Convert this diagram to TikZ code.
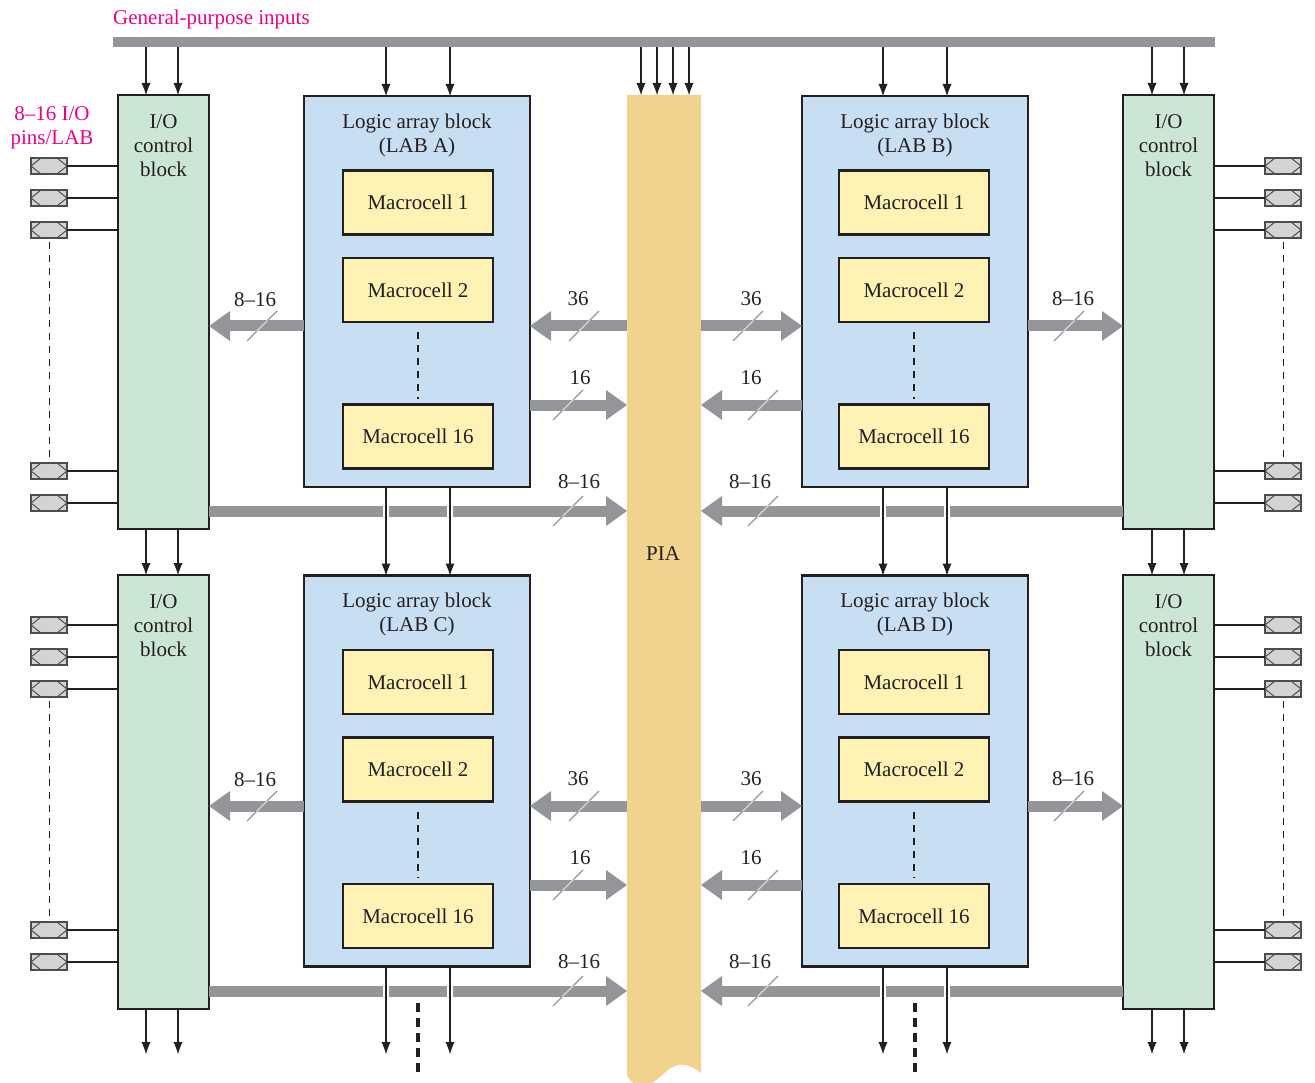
\documentclass[tikz,border=0pt]{standalone}
\usepackage{fontspec}
\setmainfont{Liberation Serif}
\usetikzlibrary{arrows.meta,calc}
\definecolor{iogreen}{HTML}{CCE6D6}
\definecolor{labblue}{HTML}{C8DFF3}
\definecolor{mcyellow}{HTML}{FEF2B4}
\definecolor{piaorange}{HTML}{F2D38E}
\definecolor{busgray}{HTML}{939598}
\definecolor{pingray}{HTML}{D1D3D4}
\definecolor{pinedge}{HTML}{4D4D4F}
\definecolor{ink}{HTML}{231F20}
\definecolor{hotpink}{HTML}{EC008C}
\definecolor{slashlight}{HTML}{D6D7D8}
\newcommand\busslash[1]{%
  \draw[busgray, line width=1.2pt] ($(#1)+(-15,15)$) -- ($(#1)+(15,-15)$);
  \draw[slashlight, line width=1.2pt] ($(#1)+(-5.5,5.5)$) -- ($(#1)+(5.5,-5.5)$);}
\begin{document}
\begin{tikzpicture}[x=1pt,y=-1pt,
  txt/.style={font=\fontsize{21}{24}\selectfont, text=ink, inner sep=0pt, align=center},
  pinktxt/.style={font=\fontsize{21}{24}\selectfont, text=hotpink, inner sep=0pt, align=center},
  box/.style={draw=ink, line width=2.5pt, inner sep=0pt, outer sep=0pt},
  iobox/.style={box, fill=iogreen, minimum width=91pt, minimum height=434pt},
  labbox/.style={box, fill=labblue, minimum width=226pt, minimum height=391pt},
  mcbox/.style={box, fill=mcyellow, minimum width=150pt, minimum height=64pt, font=\fontsize{21}{24}\selectfont, text=ink},
  iopin/.style={draw=pinedge, fill=pingray, line width=1.1pt, minimum width=36pt, minimum height=16pt, inner sep=0pt, outer sep=0pt,
    path picture={\draw[pinedge, line width=1pt] (path picture bounding box.west) -- ([xshift=10pt]path picture bounding box.north west) -- ([xshift=-10pt]path picture bounding box.north east) -- (path picture bounding box.east) -- ([xshift=-10pt]path picture bounding box.south east) -- ([xshift=10pt]path picture bounding box.south west) -- cycle;}},
  sig/.style={draw=ink, line width=2.3pt, -{Latex[length=12pt,width=9pt,line width=0pt]}},
  fat/.style={draw=busgray, line width=11pt, -{Triangle[length=21pt,width=30pt,line width=0pt]}},
  gap/.style={draw=white, line width=6pt},
  thinline/.style={draw=ink, line width=1.2pt},
  mcdots/.style={draw=ink, line width=1.2pt, dash pattern=on 7pt off 6pt},
  pindots/.style={draw=ink, line width=1pt, dash pattern=on 7pt off 6pt},
  moredots/.style={draw=ink, line width=4.5pt, dash pattern=on 8.5pt off 6.5pt}
]
\useasboundingbox (0,0) rectangle (1315,1083);

% PIA
\node[inner sep=0pt, outer sep=0pt, minimum width=74pt, minimum height=980pt] (pia) at (664,585) {};
\fill[piaorange] (pia.north west) -- (pia.north east) -- (701,1073)
  .. controls (691,1065) and (683,1063) .. (675,1066)
  .. controls (662,1071) and (655,1087) .. (641,1086)
  .. controls (634,1085) and (629,1080) .. (627,1075) -- cycle;
\node[txt] (pialbl) at (663,554) {PIA};

% general-purpose input bus
\node[fill=busgray, inner sep=0pt, outer sep=0pt, minimum width=1102pt, minimum height=10pt] (gpbus) at (664,42) {};
\node[pinktxt, anchor=west] (gplbl) at (113,19) {General-purpose inputs};
\node[pinktxt] (pinlbl) at (52,128) {8–16 I/O\\pins/LAB};

% I/O control blocks
\node[iobox] (ioTL) at (163.5,312) {};
\node[iobox] (ioBL) at (163.5,792) {};
\node[iobox] (ioTR) at (1168.5,312) {};
\node[iobox] (ioBR) at (1168.5,792) {};
\foreach \n/\x/\y in {ioTL/163.5/146, ioBL/163.5/626, ioTR/1168.5/146, ioBR/1168.5/626}
  \node[txt] (\n t) at (\x,\y) {I/O\\control\\block};

% logic array blocks
\foreach \n/\x/\y/\l/\mx in {labA/417/291.5/A/418, labB/915/291.5/B/914, labC/417/771/C/418, labD/915/771/D/914}{
  \node[labbox] (\n) at (\x,\y) {};
  \node[txt] (\n t) at (\x,\y-156.5) {Logic array block\\(LAB \l)};
  \node[mcbox] (\n m1) at (\mx,\y-89) {Macrocell 1};
  \node[mcbox] (\n m2) at (\mx,\y-1.5) {Macrocell 2};
  \node[mcbox] (\n m16) at (\mx,\y+145) {Macrocell 16};
  \draw[mcdots] ([yshift=-10pt]\n m2.south) -- ([yshift=6pt]\n m16.north);
}

% pins
\foreach \y [count=\i] in {166,198,230,471,503}{
  \node[iopin] (pTL\i) at (49,\y) {};
  \draw[thinline] (pTL\i.east) -- (pTL\i.east -| ioTL.west);
  \node[iopin] (pTR\i) at (1283,\y) {};
  \draw[thinline] (pTR\i.west) -- (pTR\i.west -| ioTR.east);
}
\foreach \y [count=\i] in {625,657,689,930,962}{
  \node[iopin] (pBL\i) at (49,\y) {};
  \draw[thinline] (pBL\i.east) -- (pBL\i.east -| ioBL.west);
  \node[iopin] (pBR\i) at (1283,\y) {};
  \draw[thinline] (pBR\i.west) -- (pBR\i.west -| ioBR.east);
}
\foreach \p in {pTL,pTR,pBL,pBR}
  \draw[pindots] ([yshift=-4pt]\p3.south) -- ([yshift=4pt]\p4.north);

% fat bus arrows
\foreach \io/\la/\lb/\ior/\dy in {ioTL/labA/labB/ioTR/0, ioBL/labC/labD/ioBR/480}{
  \coordinate (ra) at (0,326+\dy);
  \coordinate (rb) at (0,405+\dy);
  \coordinate (rc) at (0,511+\dy);
  \draw[fat] (\la.west |- ra) -- (\io.east |- ra);
  \draw[fat] (pia.west |- ra) -- (\la.east |- ra);
  \draw[fat] (\la.east |- rb) -- (pia.west |- rb);
  \draw[fat] (\io.east |- rc) -- (pia.west |- rc);
  \draw[fat] (pia.east |- ra) -- (\lb.west |- ra);
  \draw[fat] (\lb.west |- rb) -- (pia.east |- rb);
  \draw[fat] (\ior.west |- rc) -- (pia.east |- rc);
  \draw[fat] (\lb.east |- ra) -- (\ior.west |- ra);
  \busslash{262,326+\dy} \busslash{584,326+\dy} \busslash{568,405+\dy} \busslash{568,511+\dy}
  \busslash{748,326+\dy} \busslash{763,405+\dy} \busslash{763,511+\dy} \busslash{1069,326+\dy}
  \node[txt] at (255,300+\dy) {8–16};
  \node[txt] at (578,299+\dy) {36};
  \node[txt] at (580,378+\dy) {16};
  \node[txt] at (579,482+\dy) {8–16};
  \node[txt] at (751,299+\dy) {36};
  \node[txt] at (751,378+\dy) {16};
  \node[txt] at (750,482+\dy) {8–16};
  \node[txt] at (1073,299+\dy) {8–16};
  % gaps where vertical signals cross the bus
  \foreach \n/\dx in {\la/-31, \la/33, \lb/-32, \lb/32}{
    \coordinate (g) at ([xshift=\dx pt]\n.south);
    \draw[gap] ($(g |- rc)+(0,-6)$) -- ($(g |- rc)+(0,6)$);
  }
}

% signals from the general-purpose bus
\foreach \n/\dx in {ioTL/-17.5, ioTL/14.5, labA/-31, labA/33, pia/-23, pia/-7, pia/9, pia/25, labB/-32, labB/32, ioTR/-16.5, ioTR/15.5}{
  \coordinate (t) at ([xshift=\dx pt]\n.north);
  \draw[sig] (t |- gpbus.south) -- (t);
}
% signals between upper and lower blocks
\foreach \n/\m/\dx in {ioTL/ioBL/-17.5, ioTL/ioBL/14.5, labA/labC/-31, labA/labC/33, labB/labD/-32, labB/labD/32, ioTR/ioBR/-16.5, ioTR/ioBR/15.5}{
  \coordinate (t) at ([xshift=\dx pt]\n.south);
  \draw[sig] (t) -- (t |- \m.north);
}
% signals leaving at the bottom
\coordinate (bottomend) at (0,1054);
\foreach \n/\dx in {ioBL/-17.5, ioBL/14.5, labC/-31, labC/33, labD/-32, labD/32, ioBR/-16.5, ioBR/15.5}{
  \coordinate (t) at ([xshift=\dx pt]\n.south);
  \draw[sig] (t) -- (t |- bottomend);
}
\coordinate (moreA) at (418,1003);
\coordinate (moreB) at (915,1003);
\coordinate (moreEnd) at (0,1072);
\draw[moredots] (moreA) -- (moreA |- moreEnd);
\draw[moredots] (moreB) -- (moreB |- moreEnd);
\end{tikzpicture}
\end{document}
